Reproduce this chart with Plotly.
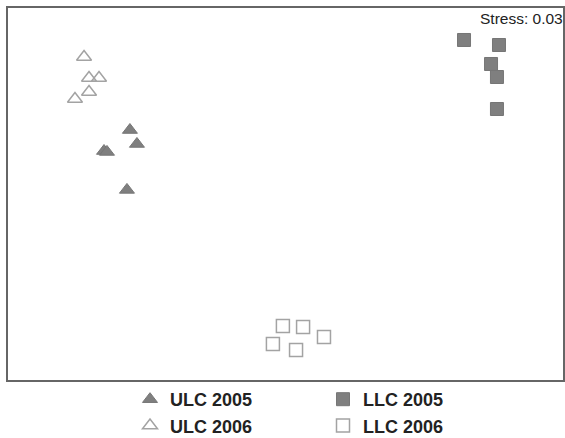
import plotly.graph_objects as go

# NMDS ordination scores (axis 1, axis 2) per site group
ulc2005_x = [-0.841, -0.803, -0.981, -0.965, -0.857]
ulc2005_y = [0.344, 0.269, 0.231, 0.226, 0.022]

ulc2006_x = [-1.089, -1.062, -1.008, -1.062, -1.138]
ulc2006_y = [0.737, 0.624, 0.624, 0.548, 0.511]

llc2005_x = [0.965, 1.154, 1.111, 1.143, 1.143]
llc2005_y = [0.828, 0.801, 0.699, 0.629, 0.457]

llc2006_x = [-0.014, 0.095, 0.208, -0.068, 0.057]
llc2006_y = [-0.710, -0.715, -0.769, -0.806, -0.839]

stress = 0.03

FILL = "#7f7f7f"
OPEN_LINE = "#a3a3a3"
FONT = "Liberation Sans, Arial, sans-serif"

fig = go.Figure()

fig.add_trace(go.Scatter(
    x=ulc2005_x, y=ulc2005_y, mode="markers", name="ULC 2005", legend="legend",
    marker=dict(symbol="triangle-up", size=13, color=FILL,
                line=dict(color="#767676", width=1)),
))
fig.add_trace(go.Scatter(
    x=ulc2006_x, y=ulc2006_y, mode="markers", name="ULC 2006", legend="legend",
    marker=dict(symbol="triangle-up-open", size=13, color=OPEN_LINE,
                line=dict(color=OPEN_LINE, width=1.5)),
))
fig.add_trace(go.Scatter(
    x=llc2005_x, y=llc2005_y, mode="markers", name="LLC 2005", legend="legend2",
    marker=dict(symbol="square", size=13, color=FILL,
                line=dict(color="#767676", width=1)),
))
fig.add_trace(go.Scatter(
    x=llc2006_x, y=llc2006_y, mode="markers", name="LLC 2006", legend="legend2",
    marker=dict(symbol="square-open", size=13, color=OPEN_LINE,
                line=dict(color=OPEN_LINE, width=1.5)),
))

axis_common = dict(
    showgrid=False, zeroline=False, showticklabels=False, ticks="",
    showline=True, mirror=True, linecolor="#666666", linewidth=2,
)

legend_common = dict(
    orientation="v", xref="container", yref="container",
    xanchor="left", yanchor="top",
    font=dict(size=18, family=FONT, color="#222222", weight="bold"),
    itemsizing="trace", traceorder="normal",
    bgcolor="rgba(0,0,0,0)", borderwidth=0,
)

fig.update_layout(
    width=565, height=438,
    margin=dict(l=8, r=2, t=8, b=58, autoexpand=False),
    paper_bgcolor="white", plot_bgcolor="white",
    font=dict(family=FONT, color="#222222"),
    xaxis=dict(range=[-1.5, 1.5], **axis_common),
    yaxis=dict(range=[-1, 1], **axis_common),
    showlegend=True,
    legend=dict(x=130 / 565, y=1 - 381 / 438, **legend_common),
    legend2=dict(x=323 / 565, y=1 - 381 / 438, **legend_common),
    annotations=[dict(
        text=f"Stress: {stress:.2f}", xref="paper", yref="paper",
        x=1.0, y=1.0, xanchor="right", yanchor="top", showarrow=False,
        font=dict(size=15.5, color="#222222"), xshift=2,
    )],
)

fig.write_html("out.html")
